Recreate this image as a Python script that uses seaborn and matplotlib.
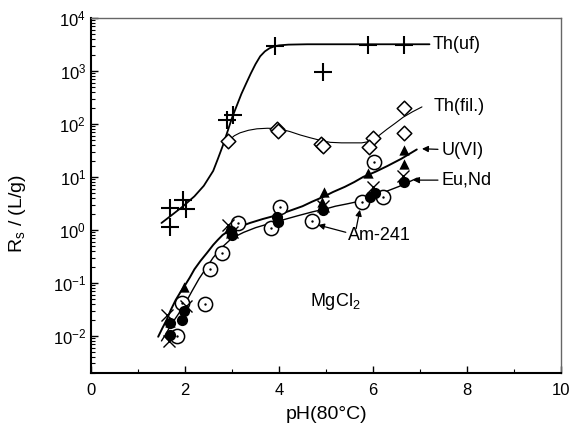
import matplotlib
matplotlib.use('Agg')
import matplotlib.pyplot as plt
from matplotlib.patches import FancyArrowPatch
from matplotlib.ticker import NullFormatter
import seaborn as sns

# Th ultrafiltered (+)
th_uf_x = [1.68, 1.68, 1.96, 2.02, 2.89, 3.02, 3.91, 4.94, 5.89, 6.66]
th_uf_y = [1.15, 2.6, 3.7, 2.5, 119, 148, 2950, 960, 3100, 3100]

# Th filtered (open diamonds)
th_fil_x = [2.92, 3.95, 3.98, 4.89, 4.93, 6.0, 5.91, 6.66, 6.66]
th_fil_y = [48, 80, 75, 42, 39, 55, 37, 200, 68]

# U(VI) (filled triangles)
u_x = [1.68, 1.98, 2.94, 2.98, 3.96, 3.98, 4.91, 4.96, 5.89, 6.66, 6.66]
u_y = [0.018, 0.083, 1.09, 0.95, 1.76, 1.6, 3.4, 5.2, 11.9, 17.6, 32]

# Eu (filled circles) and Nd (x)
eu_x = [1.68, 1.68, 1.94, 1.98, 2.98, 3.0, 3.96, 3.98, 4.94, 5.94, 6.04, 6.66]
eu_y = [0.0176, 0.0105, 0.02, 0.03, 0.97, 0.8, 1.75, 1.4, 2.4, 4.2, 5.0, 8.05]
nd_x = [1.62, 1.66, 2.02, 2.91, 3.0, 4.94, 6.0, 6.64]
nd_y = [0.025, 0.008, 0.037, 1.25, 0.9, 2.8, 6.5, 10.5]

# Am-241 (circle with dot)
am_x = [1.83, 1.94, 2.43, 2.53, 2.79, 3.13, 3.83, 4.02, 4.70, 5.77, 6.02, 6.21]
am_y = [0.01, 0.042, 0.04, 0.18, 0.37, 1.36, 1.1, 2.7, 1.5, 3.4, 19, 4.2]

# fitted curves
fit_uf_x = [1.5, 1.75, 1.96, 2.2, 2.4, 2.6, 2.7, 2.8, 2.9, 3.0, 3.1, 3.2, 3.3, 3.4,
            3.5, 3.6, 3.7, 3.8, 3.9, 4.0, 4.2, 4.6, 5.0, 6.0, 7.2]
fit_uf_y = [1.35, 2.0, 2.8, 4.3, 6.8, 13, 22, 38, 70, 130, 220, 370, 580, 900,
            1350, 1900, 2350, 2700, 2920, 3050, 3150, 3200, 3200, 3200, 3200]

fit_fil_x = [2.92, 3.05, 3.17, 3.35, 3.53, 3.75, 3.98, 4.23, 4.45, 4.66, 4.88, 5.09, 5.33,
             5.57, 5.76, 5.94, 6.12, 6.3, 6.47, 6.64, 6.84, 7.04]
fit_fil_y = [48, 60, 68, 76, 81, 83, 82, 72, 62, 55, 49, 45, 44, 44, 44, 47, 60, 80, 103,
             134, 170, 210]

fit_u_x = [1.43, 1.52, 1.61, 1.7, 1.8, 1.9, 1.98, 2.1, 2.2, 2.33, 2.47, 2.6, 2.7, 2.8, 2.91,
           3.1, 3.38, 3.65, 3.96, 4.2, 4.5, 4.7, 4.94, 5.15, 5.4, 5.6, 5.79, 6.05, 6.3, 6.6, 6.93]
fit_u_y = [0.0096, 0.014, 0.02, 0.031, 0.047, 0.066, 0.084, 0.125, 0.18, 0.26, 0.37, 0.52,
           0.65, 0.8, 0.93, 1.1, 1.35, 1.6, 1.9, 2.25, 2.8, 3.4, 4.2, 5.2, 6.5, 8.0, 10, 12.5,
           16, 22, 33]

fit_eu_x = [1.5, 1.6, 1.7, 1.85, 2.0, 2.15, 2.3, 2.45, 2.6, 2.8, 3.0, 3.25, 3.5, 3.8, 4.09,
            4.4, 4.72, 5.0, 5.2, 5.45, 5.66, 5.95, 6.2, 6.55, 6.94]
fit_eu_y = [0.008, 0.011, 0.016, 0.025, 0.04, 0.07, 0.12, 0.19, 0.3, 0.48, 0.7, 0.9, 1.1,
            1.32, 1.55, 1.85, 2.2, 2.5, 2.8, 3.1, 3.4, 4.1, 5.0, 6.6, 9.5]

y_decades = [1e-2, 1e-1, 1e0, 1e1, 1e2, 1e3, 1e4]

sns.set_style('ticks')
plt.rcParams['font.family'] = ['Liberation Sans', 'DejaVu Sans']
plt.rcParams['mathtext.fontset'] = 'custom'
plt.rcParams['mathtext.rm'] = 'Liberation Sans'
plt.rcParams['mathtext.it'] = 'Liberation Sans:italic'
plt.rcParams['mathtext.bf'] = 'Liberation Sans:bold'
for key in ['text.color', 'axes.labelcolor', 'xtick.color', 'ytick.color']:
    plt.rcParams[key] = 'black'

fig, ax = plt.subplots(figsize=(5.72, 4.30), dpi=100)
fig.subplots_adjust(left=0.159, right=0.981, top=0.958, bottom=0.133)

# curves
sns.lineplot(x=fit_uf_x, y=fit_uf_y, sort=False, estimator=None, color='black', lw=1.3, ax=ax)
sns.lineplot(x=fit_fil_x, y=fit_fil_y, sort=False, estimator=None, color='black', lw=0.8, ax=ax)
sns.lineplot(x=fit_u_x, y=fit_u_y, sort=False, estimator=None, color='black', lw=1.4, ax=ax)
sns.lineplot(x=fit_eu_x, y=fit_eu_y, sort=False, estimator=None, color='black', lw=1.0, ax=ax)

# points
sns.scatterplot(x=th_uf_x, y=th_uf_y, marker='+', s=160, color='black', linewidth=1.5, ax=ax, zorder=3)
sns.scatterplot(x=th_fil_x, y=th_fil_y, marker='D', s=55, facecolor='white', edgecolor='black',
                linewidth=1.1, ax=ax, zorder=3)
sns.scatterplot(x=am_x, y=am_y, marker='o', s=105, facecolor='white', edgecolor='black',
                linewidth=1.1, ax=ax, zorder=3)
sns.scatterplot(x=am_x, y=am_y, marker='o', s=3, color='black', linewidth=0, ax=ax, zorder=4)
sns.scatterplot(x=u_x, y=u_y, marker='^', s=55, color='black', linewidth=0, ax=ax, zorder=4)
sns.scatterplot(x=eu_x, y=eu_y, marker='o', s=65, color='black', linewidth=0, ax=ax, zorder=4)
sns.scatterplot(x=nd_x, y=nd_y, marker='x', s=75, color='black', linewidth=1.0, ax=ax, zorder=4)

ax.set_yscale('log')
ax.set_xlim(0, 10)
ax.set_ylim(2e-3, 1e4)
ax.set_yticks(y_decades)
ax.yaxis.set_minor_formatter(NullFormatter())
ax.set_xticks([0, 2, 4, 6, 8, 10])
ax.set_xticks([1, 3, 5, 7, 9], minor=True)
ax.tick_params(axis='both', which='both', direction='in', top=False, right=False, labelsize=12, color='black')
ax.tick_params(axis='both', which='major', length=5, width=1.0)
ax.tick_params(axis='both', which='minor', length=3, width=0.8)
ax.tick_params(axis='x', pad=7)

for side in ['left', 'bottom']:
    ax.spines[side].set_color('black')
    ax.spines[side].set_linewidth(1.5)
for side in ['top', 'right']:
    ax.spines[side].set_visible(True)
    ax.spines[side].set_color('#666666')
    ax.spines[side].set_linewidth(1.0)

ax.set_xlabel('pH(80°C)', fontsize=14, labelpad=6)
ax.set_ylabel(r'R$_\mathrm{s}$ / (L/g)', fontsize=14)
ax.yaxis.set_label_coords(-0.134, 0.45)

# labels
arrow = dict(arrowstyle='-|>', color='black', lw=0.9, mutation_scale=9, shrinkA=0, shrinkB=0)
ax.text(7.26, 3100, 'Th(uf)', fontsize=13, va='center', ha='left')
ax.text(7.28, 210, 'Th(fil.)', fontsize=13, va='center', ha='left')
ax.annotate('U(VI)', xy=(7.04, 34), xytext=(7.45, 32), fontsize=13, va='center', ha='left',
            arrowprops=arrow)
ax.annotate('Eu,Nd', xy=(6.85, 8.7), xytext=(7.45, 8.7), fontsize=13, va='center', ha='left',
            arrowprops=arrow)
ax.text(5.47, 0.8, 'Am-241', fontsize=13, va='center', ha='left')
for tail, tip in [((5.42, 0.9), (4.83, 1.24)), ((5.64, 1.05), (5.72, 2.4))]:
    ax.add_patch(FancyArrowPatch(tail, tip, **arrow))
ax.text(4.66, 0.044, r'MgCl$_\mathrm{2}$', fontsize=13, va='center', ha='left')

fig.savefig('out.png', dpi=100)
